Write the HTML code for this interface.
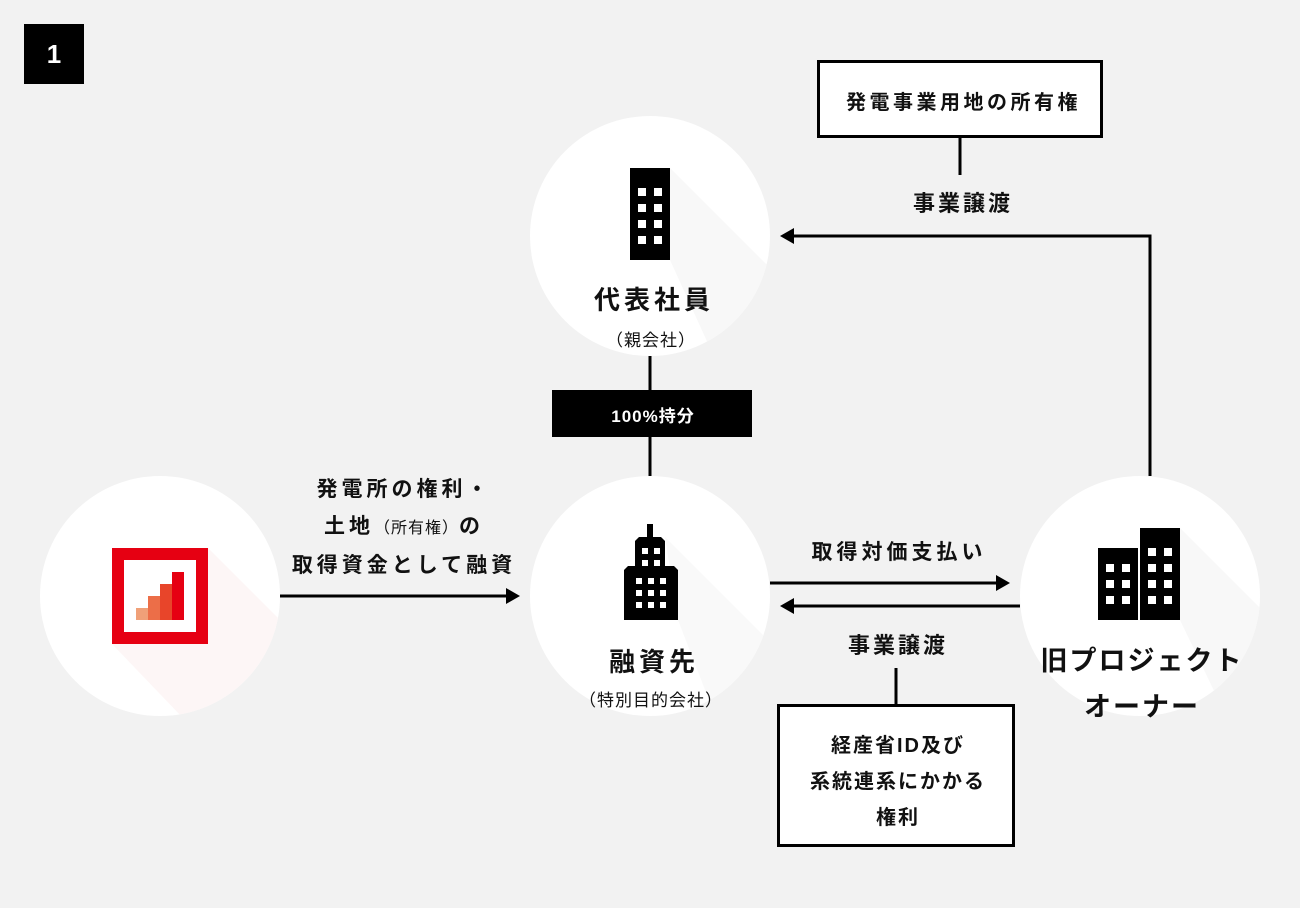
<!DOCTYPE html>
<html><head><meta charset="utf-8"><style>
body{margin:0;width:1300px;height:908px;background:#f2f2f2;position:relative;overflow:hidden;font-family:"Liberation Sans","Noto Sans CJK JP",sans-serif;font-weight:bold;color:#111}
.a{position:absolute}
.t{position:absolute;text-align:center;white-space:nowrap}
</style></head><body>
<div class="a" style="left:24px;top:24px;width:60px;height:60px;background:#000;color:#fff;font-size:26px;line-height:60px;text-align:center">1</div>
<svg class="a" style="left:0;top:0" width="1300" height="908">
<defs>
<clipPath id="c1"><circle cx="160" cy="596" r="120"/></clipPath>
<clipPath id="c2"><circle cx="650" cy="236" r="120"/></clipPath>
<clipPath id="c3"><circle cx="650" cy="596" r="120"/></clipPath>
<clipPath id="c4"><circle cx="1140" cy="596" r="120"/></clipPath>
</defs>
<circle cx="160" cy="596" r="120" fill="#fff"/>
<circle cx="650" cy="236" r="120" fill="#fff"/>
<circle cx="650" cy="596" r="120" fill="#fff"/>
<circle cx="1140" cy="596" r="120" fill="#fff"/>
<polygon clip-path="url(#c1)" points="208,548 400,740 300,840 112,644" fill="#fdf6f6"/>
<polygon clip-path="url(#c2)" points="670,168 860,358 760,458 670,260" fill="#f8f8f8"/>
<polygon clip-path="url(#c3)" points="665,537 860,732 760,832 678,620" fill="#f9f9f9"/>
<polygon clip-path="url(#c4)" points="1180,528 1380,728 1280,828 1180,620" fill="#f8f8f8"/>
<rect x="112" y="548" width="96" height="96" fill="#e60012"/>
<rect x="124" y="560" width="72" height="72" fill="#fff"/>
<rect x="136" y="608" width="12" height="12" fill="#f0a078"/>
<rect x="148" y="596" width="12" height="24" fill="#ec6e48"/>
<rect x="160" y="584" width="12" height="36" fill="#e8452a"/>
<rect x="172" y="572" width="12" height="48" fill="#e60012"/>
<rect x="630" y="168" width="40" height="92" fill="#000"/>
<g fill="#fff">
<rect x="638" y="188" width="8" height="8"/><rect x="654" y="188" width="8" height="8"/>
<rect x="638" y="204" width="8" height="8"/><rect x="654" y="204" width="8" height="8"/>
<rect x="638" y="220" width="8" height="8"/><rect x="654" y="220" width="8" height="8"/>
<rect x="638" y="236" width="8" height="8"/><rect x="654" y="236" width="8" height="8"/>
</g>
<path d="M647 524H653V537H661L665 541V566H674L678 570V620H624V570L628 566H635V541L639 537H647Z" fill="#000"/>
<g fill="#fff">
<rect x="642" y="548" width="6" height="6"/><rect x="654" y="548" width="6" height="6"/>
<rect x="642" y="560" width="6" height="6"/><rect x="654" y="560" width="6" height="6"/>
<rect x="636" y="578" width="6" height="6"/><rect x="648" y="578" width="6" height="6"/><rect x="660" y="578" width="6" height="6"/>
<rect x="636" y="590" width="6" height="6"/><rect x="648" y="590" width="6" height="6"/><rect x="660" y="590" width="6" height="6"/>
<rect x="636" y="602" width="6" height="6"/><rect x="648" y="602" width="6" height="6"/><rect x="660" y="602" width="6" height="6"/>
</g>
<rect x="1098" y="548" width="40" height="72" fill="#000"/>
<rect x="1140" y="528" width="40" height="92" fill="#000"/>
<g fill="#fff">
<rect x="1106" y="564" width="8" height="8"/><rect x="1122" y="564" width="8" height="8"/>
<rect x="1106" y="580" width="8" height="8"/><rect x="1122" y="580" width="8" height="8"/>
<rect x="1106" y="596" width="8" height="8"/><rect x="1122" y="596" width="8" height="8"/>
<rect x="1148" y="548" width="8" height="8"/><rect x="1164" y="548" width="8" height="8"/>
<rect x="1148" y="564" width="8" height="8"/><rect x="1164" y="564" width="8" height="8"/>
<rect x="1148" y="580" width="8" height="8"/><rect x="1164" y="580" width="8" height="8"/>
<rect x="1148" y="596" width="8" height="8"/><rect x="1164" y="596" width="8" height="8"/>
</g>
<g stroke="#000" stroke-width="3" fill="none">
<line x1="650" y1="356" x2="650" y2="390"/>
<line x1="650" y1="437" x2="650" y2="476"/>
<line x1="960" y1="138" x2="960" y2="175"/>
<polyline points="1150,476 1150,236 792,236"/>
<line x1="280" y1="596" x2="508" y2="596"/>
<line x1="770" y1="583" x2="998" y2="583"/>
<line x1="1020" y1="606" x2="792" y2="606"/>
<line x1="896" y1="668" x2="896" y2="704"/>
</g>
<g fill="#000">
<polygon points="780,236 794,228 794,244"/>
<polygon points="520,596 506,588 506,604"/>
<polygon points="1010,583 996,575 996,591"/>
<polygon points="780,606 794,598 794,614"/>
</g>
<rect x="818.5" y="61.5" width="283" height="75" fill="#fff" stroke="#000" stroke-width="3"/>
<rect x="778.5" y="705.5" width="235" height="140" fill="#fff" stroke="#000" stroke-width="3"/>
<rect x="552" y="390" width="200" height="47" fill="#000"/>
</svg>
<div class="t" style="left:818px;top:86px;width:284px;font-size:20px;letter-spacing:3.5px;padding-left:3.5px">発電事業用地の所有権</div>
<div class="t" style="left:860px;top:186px;width:200px;font-size:22px;letter-spacing:3px;padding-left:3px">事業譲渡</div>
<div class="t" style="left:550px;top:280px;width:200px;font-size:26px;letter-spacing:4px;padding-left:4px">代表社員</div>
<div class="t" style="left:550px;top:326px;width:200px;font-size:17px;font-weight:normal;letter-spacing:1px;padding-left:1px">（親会社）</div>
<div class="t" style="left:552px;top:402px;width:200px;font-size:17px;color:#fff;letter-spacing:1px;padding-left:1px">100%持分</div>
<div class="t" style="left:270px;top:471px;width:260px;font-size:21px;line-height:37px;letter-spacing:4px;padding-left:4px">発電所の権利・<br>土地<span style="font-size:16px;font-weight:normal;letter-spacing:1px">（所有権）</span>の<br>取得資金として融資</div>
<div class="t" style="left:550px;top:642px;width:200px;font-size:26px;letter-spacing:4px;padding-left:4px">融資先</div>
<div class="t" style="left:550px;top:686px;width:200px;font-size:17px;font-weight:normal;letter-spacing:1px;padding-left:1px">（特別目的会社）</div>
<div class="t" style="left:780px;top:536px;width:230px;font-size:21px;letter-spacing:4px;padding-left:4px">取得対価支払い</div>
<div class="t" style="left:780px;top:628px;width:230px;font-size:22px;letter-spacing:3px;padding-left:3px">事業譲渡</div>
<div class="t" style="left:1010px;top:638px;width:260px;font-size:27px;line-height:46px;letter-spacing:2px;padding-left:2px">旧プロジェクト<br>オーナー</div>
<div class="t" style="left:778px;top:728px;width:236px;font-size:20px;line-height:36px;letter-spacing:2px;padding-left:2px">経産省ID及び<br>系統連系にかかる<br>権利</div>
</body></html>
